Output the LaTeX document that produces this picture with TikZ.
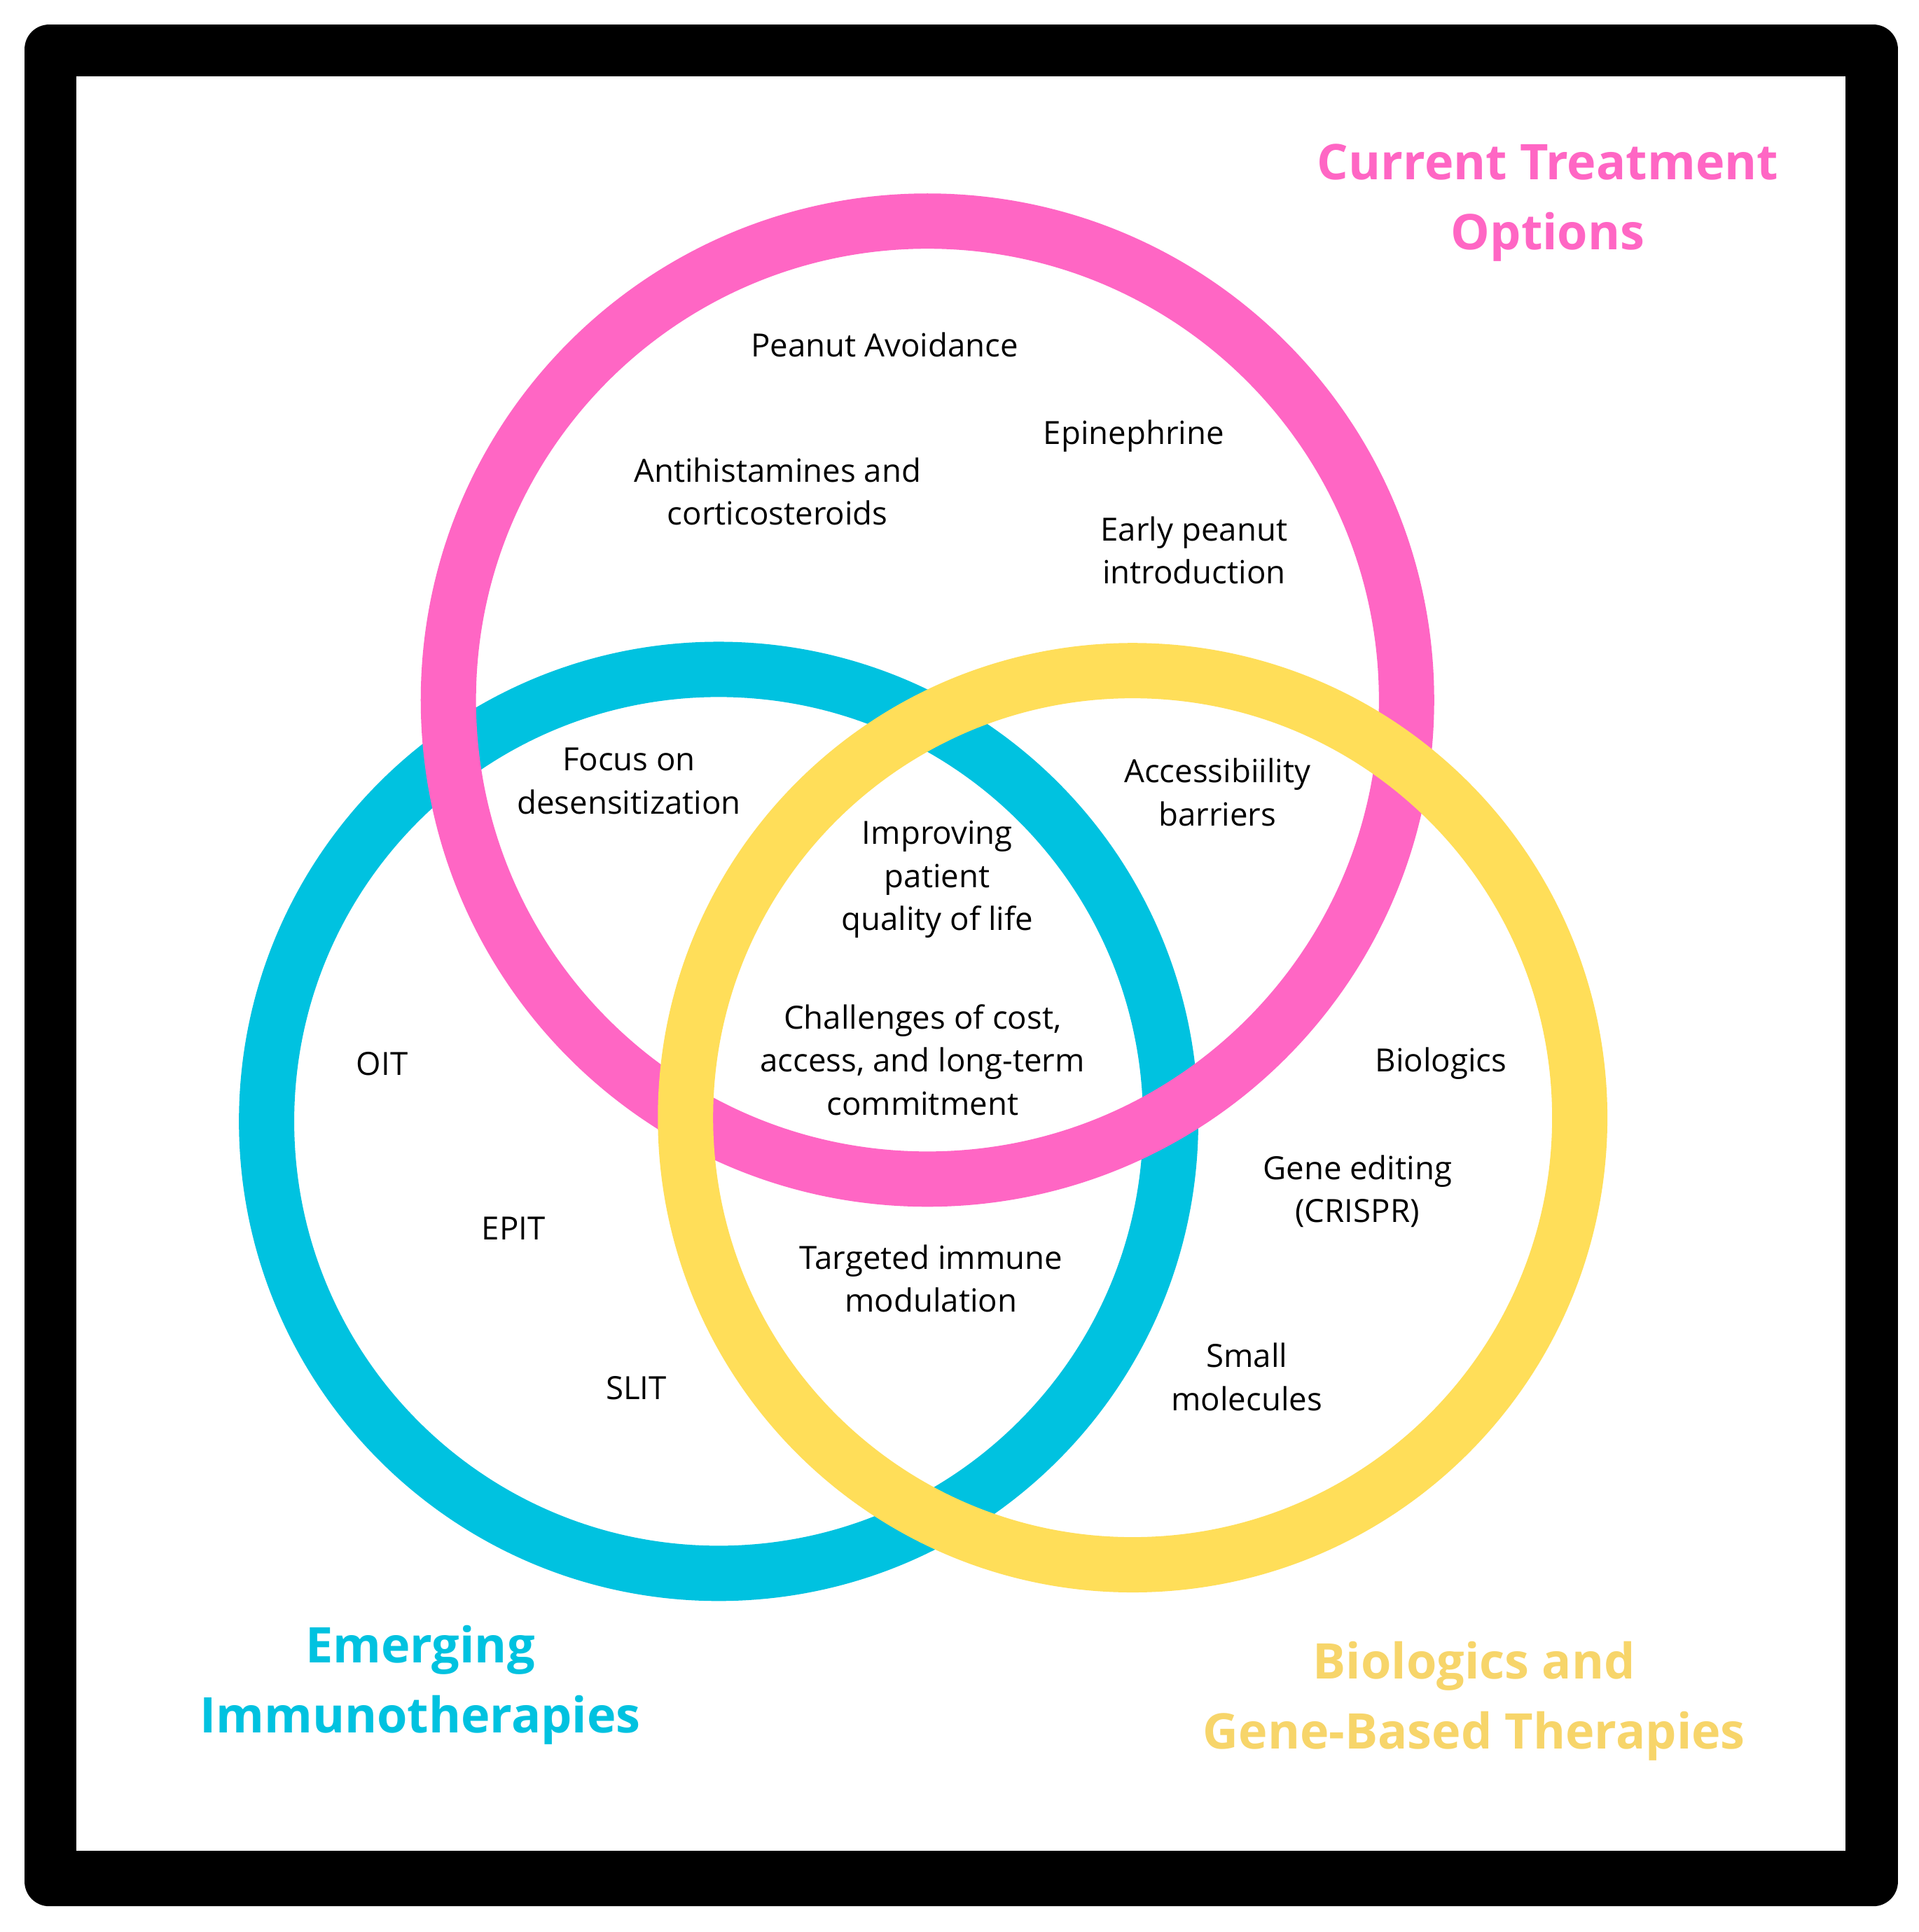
\documentclass[tikz,border=0pt]{standalone}
\usepackage{fontspec}
\setmainfont{Open Sans}
\usetikzlibrary{calc}
\definecolor{ctpink}{HTML}{FF66C4}
\definecolor{ctcyan}{HTML}{00C2E0}
\definecolor{ctyellow}{HTML}{FFDE59}
\definecolor{ctyellowtxt}{HTML}{F7D56A}
\tikzset{
  ring/.style={line width=22.5pt},
  item/.style={align=center,font=\fontsize{13}{17.5}\selectfont,inner sep=0pt},
  title/.style={align=center,font=\fontsize{20}{28.5}\selectfont\bfseries,inner sep=0pt}
}
\begin{document}
\begin{tikzpicture}[x=0.5pt,y=0.5pt]
		\useasboundingbox (0,0) rectangle (1562,-1573);
		\fill [black,rounded corners=10pt] (20,-20) rectangle (1545,-1552);
		\fill [white] (62,-62) rectangle (1502,-1507);
		% the three rings
		\draw [ring,ctcyan] (585,-913) circle (368);
		\draw [ring,ctpink] (755,-570) circle (390);
		\draw [ring,ctyellow] (922,-910) circle (364);
		% titles
		\node [title,text=ctpink] (current) at (1260,-165) {Current Treatment\\Options};
		\node [title,text=ctcyan] (emerging) at (342,-1372) {Emerging\\Immunotherapies};
		\node [title,text=ctyellowtxt] (biogene) at (1200,-1385) {Biologics and\\Gene-Based Therapies};
		% current treatment options
		\node [item] (avoid) at (720,-281) {Peanut Avoidance};
		\node [item] (epi) at (923,-355) {Epinephrine};
		\node [item] (anti) at (633,-400) {Antihistamines and\\corticosteroids};
		\node [item] (early) at (972,-448) {Early peanut\\introduction};
		% overlaps
		\node [item] (focus) at (512,-636) {Focus on\\desensitization};
		\node [item] (access) at (991,-645) {Accessibiility\\barriers};
		\node [item] (improve) at (763,-716) {Improving\\patient\\quality of life};
		\node [item] (cost) at (751,-863) {Challenges of cost,\\access, and long-term\\commitment};
		\node [item] (target) at (758,-1041) {Targeted immune\\modulation};
		% emerging immunotherapies
		\node [item] (oit) at (311,-866) {OIT};
		\node [item] (epit) at (418,-1000) {EPIT};
		\node [item] (slit) at (518,-1130) {SLIT};
		% biologics and gene-based therapies
		\node [item] (bio) at (1173,-866) {Biologics};
		\node [item] (gene) at (1105,-970) {Gene editing\\(CRISPR)};
		\node [item] (small) at (1015,-1121) {Small\\molecules};
\end{tikzpicture}
\end{document}
